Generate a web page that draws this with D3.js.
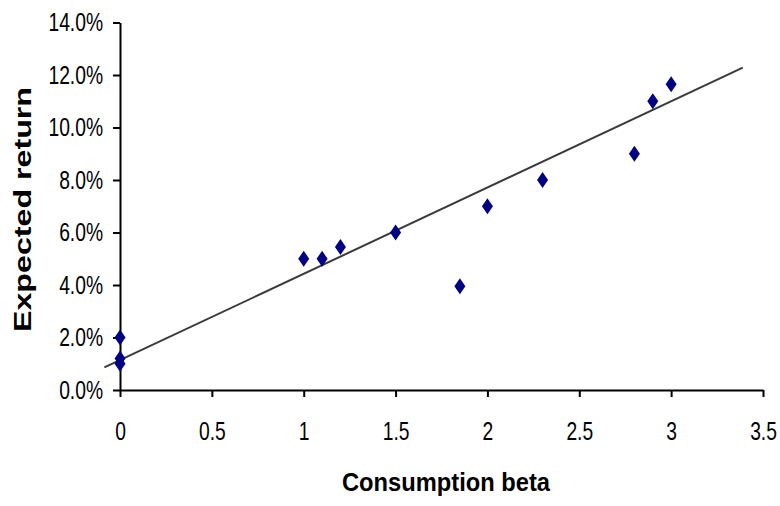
<!DOCTYPE html>
<html>
<head>
<meta charset="utf-8">
<script src="https://cdn.jsdelivr.net/npm/d3@7"></script>
<style>
  body { margin: 0; background: #fff; }
  .tick text { font-family: "Liberation Sans", Arial, sans-serif; font-size: 25px; fill: #000; }
</style>
</head>
<body>
<svg id="chart" width="780" height="506"></svg>
<script>
// data
let betas   = [0, 0, 0, 1.0, 1.1, 1.2, 1.5, 1.85, 2.0, 2.3, 2.8, 2.9, 3.0];
let returns = [2.0, 1.2, 1.0, 5.0, 5.0, 5.45, 6.0, 3.95, 7.0, 8.0, 9.0, 11.0, 11.65];
// trend line end points (beta, return %)
let trendX = [-0.085, 3.39];
let trendY = [0.86, 12.28];
let xTicks = [0, 0.5, 1, 1.5, 2, 2.5, 3, 3.5];
let yTicks = [0, 2, 4, 6, 8, 10, 12, 14];

let svg = d3.select('#chart');

let x = d3.scaleLinear().domain([0, 3.5]).range([120, 763]);
let y = d3.scaleLinear().domain([0, 14]).range([390, 22.5]);

// the source font is condensed, so squeeze the labels sideways
let squeeze = 0.77;

let xAxis = svg.append('g')
  .attr('transform', 'translate(0,' + y(0) + ')')
  .call(d3.axisBottom(x).tickValues(xTicks).tickSize(7).tickPadding(25)
    .tickFormat(d3.format('')).tickSizeOuter(0));
xAxis.selectAll('.tick text').attr('transform', 'scale(' + squeeze + ',1)');

let yAxis = svg.append('g')
  .attr('transform', 'translate(' + x(0) + ',0)')
  .call(d3.axisLeft(y).tickValues(yTicks).tickSize(7)
    .tickFormat((d) => d.toFixed(1) + '%').tickSizeOuter(0));
yAxis.selectAll('.tick text')
  .attr('x', -17 / squeeze)
  .attr('transform', 'scale(' + squeeze + ',1)');

svg.selectAll('.domain').attr('stroke', '#000').attr('stroke-width', 2);
svg.selectAll('.tick line').attr('stroke', '#000').attr('stroke-width', 2);

// trend line
svg.append('line')
  .attr('x1', x(trendX[0])).attr('y1', y(trendY[0]))
  .attr('x2', x(trendX[1])).attr('y2', y(trendY[1]))
  .attr('stroke', '#3a3a3a')
  .attr('stroke-width', 2);

// diamonds
let points = betas.map((b, i) => [b, returns[i]]);
svg.selectAll('path.pt')
  .data(points)
  .enter()
  .append('path')
  .attr('class', 'pt')
  .attr('d', 'M0,-8 L5.5,0 L0,8 L-5.5,0 Z')
  .attr('transform', (d) => 'translate(' + x(d[0]) + ',' + y(d[1]) + ')')
  .attr('fill', '#000080');

// titles
svg.append('text')
  .text('Consumption beta')
  .attr('x', 342).attr('y', 491)
  .attr('textLength', 208)
  .attr('lengthAdjust', 'spacingAndGlyphs')
  .style('font-family', '"Liberation Sans", Arial, sans-serif')
  .style('font-weight', 'bold')
  .style('font-size', '26px');

svg.append('text')
  .text('Expected return')
  .attr('transform', 'translate(31,332) rotate(-90)')
  .attr('textLength', 245)
  .attr('lengthAdjust', 'spacingAndGlyphs')
  .style('font-family', '"Liberation Sans", Arial, sans-serif')
  .style('font-weight', 'bold')
  .style('font-size', '24px');
</script>
</body>
</html>
